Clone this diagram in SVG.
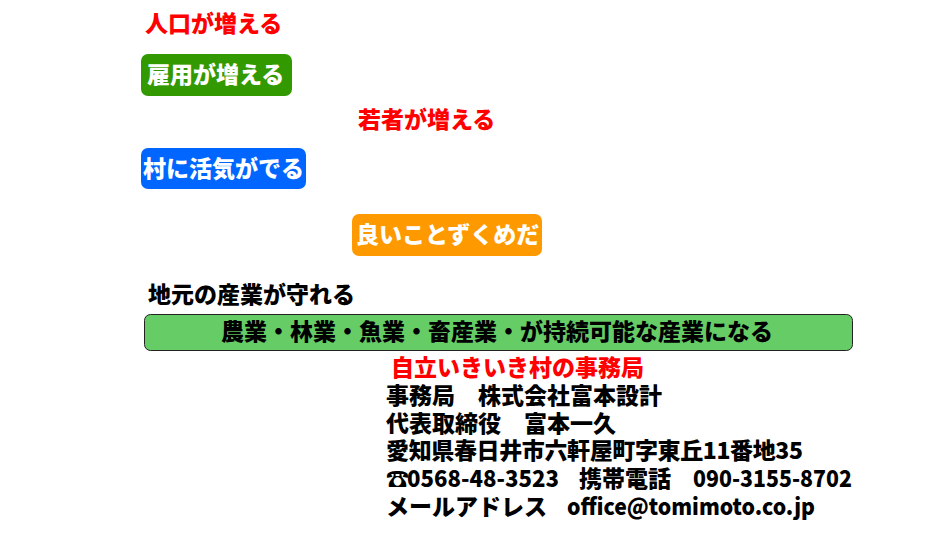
<svg xmlns="http://www.w3.org/2000/svg" width="933" height="535" viewBox="0 0 933 535">
<style>
text{font-family:"Noto Sans CJK JP","Noto Sans CJK SC",sans-serif;font-weight:900;font-size:23px;}
.red{fill:#ff0000;}
.wht{fill:#ffffff;}
.blk{fill:#000000;}
</style>
<rect width="933" height="535" fill="#ffffff"/>
<g id="n-jinko"><text class="red" x="145" y="32">人口が増える</text></g>
<g id="n-koyo"><rect x="141" y="54" width="151" height="42" rx="7" fill="#339900"/><text class="wht" x="147" y="83">雇用が増える</text></g>
<g id="n-wakamono"><text class="red" x="358" y="128">若者が増える</text></g>
<g id="n-mura"><rect x="141" y="148" width="165" height="41" rx="7" fill="#0066ff"/><text class="wht" x="143" y="177">村に活気がでる</text></g>
<g id="n-yoi"><rect x="352" y="214" width="190" height="42" rx="7" fill="#ff9900"/><text class="wht" x="356" y="243">良いことずくめだ</text></g>
<g id="n-jimoto"><text class="blk" x="148" y="303">地元の産業が守れる</text></g>
<g id="n-sangyo"><rect x="144.5" y="314.5" width="708" height="36" rx="6" fill="#66cc66" stroke="#222222" stroke-width="1"/><text class="blk" x="497" y="340" text-anchor="middle">農業・林業・魚業・畜産業・が持続可能な産業になる</text></g>
<g id="n-jimukyoku"><text class="red" x="391" y="376">自立いきいき村の事務局</text></g>
<g id="n-contact">
<text class="blk" x="386" y="404">事務局　株式会社富本設計</text>
<text class="blk" x="386" y="432">代表取締役　富本一久</text>
<text class="blk" x="386" y="459" textLength="417" lengthAdjust="spacing">愛知県春日井市六軒屋町字東丘11番地35</text>
<text class="blk" y="487"><tspan x="386">☎</tspan><tspan x="407" textLength="152" lengthAdjust="spacingAndGlyphs">0568-48-3523</tspan><tspan x="579">携帯電話</tspan><tspan x="693" textLength="159" lengthAdjust="spacingAndGlyphs">090-3155-8702</tspan></text>
<text class="blk" y="515"><tspan x="386">メールアドレス</tspan><tspan x="567" textLength="248" lengthAdjust="spacingAndGlyphs">office@tomimoto.co.jp</tspan></text>
</g>
<g id="connectors"></g>
</svg>
